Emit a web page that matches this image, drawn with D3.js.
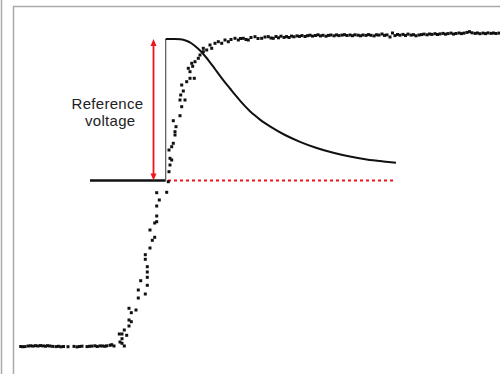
<!DOCTYPE html>
<html>
<head>
<meta charset="utf-8">
<script src="https://cdn.jsdelivr.net/npm/d3@7"></script>
<style>
  html, body { margin: 0; padding: 0; background: #fff; }
  svg { display: block; }
</style>
</head>
<body>
<svg id="chart" width="500" height="374"></svg>
<script>
// Time in µs, response in mV
const timeDomain = [0, 480];
const responseDomain = [0, 310];

// Sensor trace, drawn as sampled dots
const sensorTime = [
  0.7, 2.5, 5, 8, 10.5, 13, 15.5, 18, 20.5, 23, 25.5, 27.5, 30, 32.7, 36, 38.5, 41, 43.5,
  48, 54, 57, 59.5, 62, 67, 69.5, 72, 75, 77.3, 80, 82.5, 85, 86.7, 90, 91.7, 94,
  99.3, 100, 102, 102, 102, 104.3, 104.3, 106.7, 109, 109, 109, 111.3, 111.3, 116,
  118.3, 118.3, 120.7, 125.3, 125.3, 125.3, 127.3, 127.3, 127.3, 127.3, 130, 130,
  132.3, 134.7, 134.7, 136.7, 136.7, 136.7, 136.7, 139.3, 146.7, 148.3, 149, 150,
  151.7, 150, 149, 153.3, 151.7, 155, 155, 156, 153.3, 160, 161.7, 165, 160, 160.7,
  163.3, 161.7, 166.7, 170, 174.3, 170, 168.3, 172.7, 171.7, 175, 178.3, 180, 183.3,
  183.3, 186.7, 190, 191.7, 195, 198.3, 201.7, 205, 208.3, 211, 215, 218.3, 220.5,
  223.3, 226, 228.3, 231, 235, 238, 241.7, 245, 248.3, 251, 253.3,
  256, 258.5, 261, 264, 266.5, 269, 271.5, 274, 277, 279.5, 282, 285, 287.5, 290,
  292.5, 295.5, 298, 300.5, 303, 306, 308.5, 311, 314, 316.5, 319, 322, 324.5, 327,
  330, 332.5, 335, 338, 340.5, 343, 346, 348.5, 351, 354, 356.5, 359, 362, 364.5,
  367, 370, 372.5, 375, 377.5, 380, 383, 385.5, 388, 391, 393.5, 396, 399, 401.5,
  404, 407, 409.5, 412, 415, 417.5, 420, 423, 425.5, 428, 431, 433.5, 436, 439,
  441.5, 444, 447, 449.5, 452, 455, 457.5, 460, 463, 465.5, 468, 471, 473.5, 476, 479
];
const sensorResponse = [
  -0.5, -0.7, -0.6, 0, 0.2, -0.1, 0.3, 0, 0.4, 0.1, -0.2, 0.3, 0, -0.4, -0.6, -0.3, -0.8, -0.5,
  -0.7, -0.4, -0.9, -0.5, -0.2, -0.6, -0.3, -0.1, 0.2, -0.5, 0.1, 0, -0.3, 0.2, 0.7, 1.3, 0,
  12, 4, 12, 7.3, 2.7, 16, 0, 10.7, 20, 26, 37.7, 24.3, 33.3, 36,
  56, 48, 65.3, 52, 91.3, 86.7, 79.3, 74, 68.7, 60.7, 116, 98,
  105.7, 108.7, 123, 124.3, 130, 140, 153.3, 146, 153.7, 164.3, 174.3, 181,
  186, 187.7, 196, 202.7, 199.3, 211, 214.3, 219.3, 225.3, 230.3, 239.3, 246, 246, 251,
  255, 261, 264.3, 267.7, 267.7, 274.3, 277.7, 279.7, 282.7, 284.3, 287.7, 291, 294.3,
  297.7, 296, 301, 297.7, 302.7, 304.3, 302.7, 306, 304.3, 306.5, 307.7, 306, 307.5,
  307.7, 306.5, 306, 308.5, 309.3, 307.5, 307.7, 309, 309.3, 308, 307.7,
  309.5, 308.2, 309.8, 308.6, 309.4, 308.5, 309.9, 309.2, 310.1, 309.6, 310.4, 309.5, 310.3, 310.8,
  309.9, 310.5, 311.2, 310.1, 310.7, 309.8, 310.6, 311, 310.2, 311.1, 310.4, 310.9, 311.3, 310.5,
  311, 310.3, 311.2, 310.8, 310.2, 311, 310.6, 311.4, 310.7, 310.1, 311.2, 310.9, 312, 310.6,
  311.1, 309, 313, 310.4, 311.5, 310.8, 311.6, 310.5, 311.9, 310.9, 311.3, 310.2, 311, 311.4,
  311.9, 311.2, 312, 311.6, 312.3, 311.5, 312.1, 312.6, 311.8, 312.4, 312.9, 311.9, 312.5, 313,
  312.4, 312.9, 313.6, 314.3, 313.2, 312.6, 313, 312.3, 312.9, 312.4, 313.1, 312.6, 313, 312.5, 312.9
];

// Electrode trace, drawn as a solid line with a step
const electrodeTime = [
  70, 100, 130, 145.7,
  145.7, 155, 160, 164, 167, 171, 175, 180, 185, 190, 195, 200, 205, 210, 215,
  220, 225, 230, 235, 240, 250, 265, 280, 296.7, 313.3, 330, 346.7, 363.3, 376
];
const electrodeResponse = [
  165.5, 165.5, 165.5, 165.5,
  307, 307, 306.7, 306, 305, 303, 300, 295.5, 290, 283.7, 277, 270.2, 263.7, 257.5, 251.3,
  245.4, 239.9, 234.8, 230.4, 226.4, 219.6, 211, 204.2, 198, 193.2, 189.4, 186.6, 184.6, 183.3
];

// Reference voltage marker
const referenceLevel = 165.5;
const referencePeak = 307;
const referenceArrowTime = 133.5;
const referenceDashTime = [148, 374];
const referenceLabel = ["Reference", "voltage"];

const svg = d3.select("#chart");
const x = d3.scaleLinear().domain(timeDomain).range([20, 500]);
const y = d3.scaleLinear().domain(responseDomain).range([346, 36]);

// Panel frame
svg.append("line").attr("x1", 1.5).attr("x2", 1.5).attr("y1", 0).attr("y2", 374)
  .attr("stroke", "#aaa").attr("stroke-width", 1.5);
svg.append("path").attr("d", "M13.5,374V6.5H500")
  .attr("fill", "none").attr("stroke", "#aaa").attr("stroke-width", 1.5);

// Reference level dashed line
svg.append("line")
  .attr("x1", x(referenceDashTime[0])).attr("x2", x(referenceDashTime[1]))
  .attr("y1", y(referenceLevel)).attr("y2", y(referenceLevel))
  .attr("stroke", "#f0141e").attr("stroke-width", 2)
  .attr("stroke-dasharray", "3,3");

// Electrode trace: baseline, step and decay
const jump = electrodeTime.findIndex((t, i) => i > 0 && t === electrodeTime[i - 1]);
const electrode = electrodeTime.map((t, i) => [t, electrodeResponse[i]]);
const before = electrode.slice(0, jump);
const after = electrode.slice(jump);

svg.append("path")
  .attr("d", d3.line().x(d => x(d[0])).y(d => y(d[1]))(before))
  .attr("fill", "none").attr("stroke", "#111").attr("stroke-width", 2.6);
svg.append("line")
  .attr("x1", x(before[before.length - 1][0])).attr("x2", x(after[0][0]))
  .attr("y1", y(before[before.length - 1][1])).attr("y2", y(after[0][1]))
  .attr("stroke", "#555").attr("stroke-width", 1.2);
svg.append("path")
  .attr("d", d3.line().curve(d3.curveMonotoneX).x(d => x(d[0])).y(d => y(d[1]))(after))
  .attr("fill", "none").attr("stroke", "#111").attr("stroke-width", 2);

// Sensor dots
const dot = 3;
svg.append("g").selectAll("rect")
  .data(sensorTime.map((t, i) => [t, sensorResponse[i]]))
  .join("rect")
  .attr("x", d => x(d[0]) - dot / 2)
  .attr("y", d => y(d[1]) - dot / 2)
  .attr("width", dot).attr("height", dot)
  .attr("fill", "#111");

// Double-headed reference arrow
const ax = x(referenceArrowTime);
const yTop = y(referencePeak), yBot = y(referenceLevel);
const red = "#f0141e";
const headLen = 7, headHalf = 3;
svg.append("line").attr("x1", ax).attr("x2", ax)
  .attr("y1", yTop + headLen - 1).attr("y2", yBot - headLen + 1)
  .attr("stroke", red).attr("stroke-width", 1.8);
svg.append("path")
  .attr("d", `M${ax},${yTop}L${ax - headHalf},${yTop + headLen}L${ax + headHalf},${yTop + headLen}Z`)
  .attr("fill", red);
svg.append("path")
  .attr("d", `M${ax},${yBot}L${ax - headHalf},${yBot - headLen}L${ax + headHalf},${yBot - headLen}Z`)
  .attr("fill", red);

// Two-line label beside the arrow
const labelFont = { family: "'Liberation Sans', Arial, sans-serif", size: 15, spacing: 0.3 };
svg.append("text")
  .attr("x", 71.5).attr("y", 109)
  .attr("font-family", labelFont.family).attr("font-size", labelFont.size)
  .attr("letter-spacing", labelFont.spacing)
  .attr("fill", "#222").text(referenceLabel[0]);
svg.append("text")
  .attr("x", 85).attr("y", 126)
  .attr("font-family", labelFont.family).attr("font-size", labelFont.size)
  .attr("letter-spacing", labelFont.spacing)
  .attr("fill", "#222").text(referenceLabel[1]);
</script>
</body>
</html>
